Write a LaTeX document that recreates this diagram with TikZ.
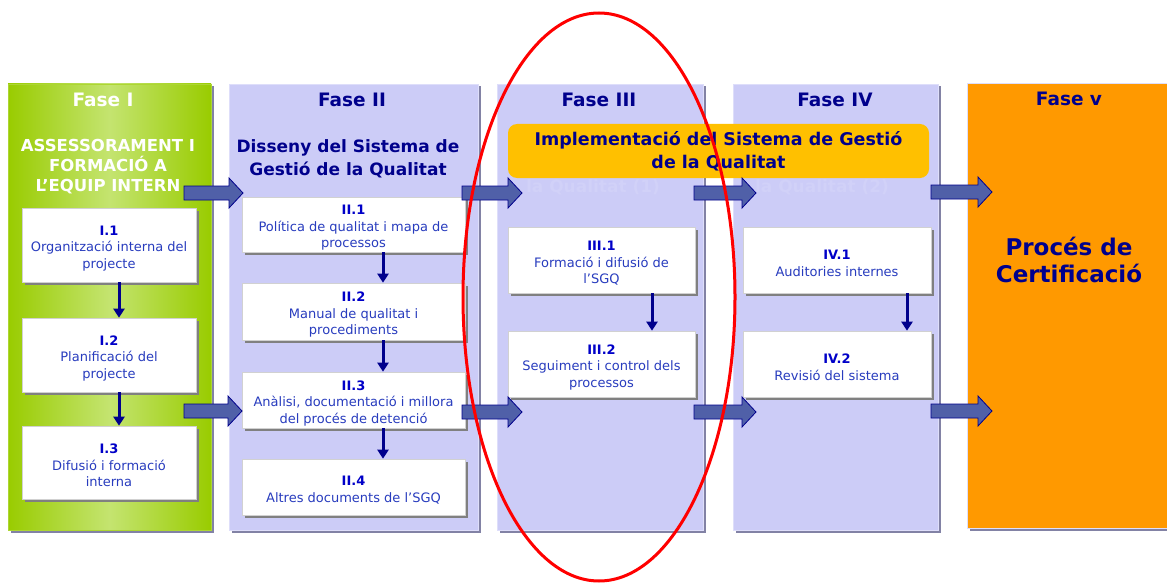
\documentclass[tikz,border=0pt]{standalone}
\usepackage{fontspec}
\setmainfont{DejaVu Sans}
\usetikzlibrary{shadows,arrows.meta}
\definecolor{lav}{RGB}{204,204,247}
\definecolor{lavedge}{RGB}{222,222,250}
\definecolor{panshadow}{RGB}{130,130,165}
\definecolor{grn}{RGB}{153,204,0}
\definecolor{grnl}{RGB}{196,228,112}
\definecolor{orng}{RGB}{255,153,0}
\definecolor{ylw}{RGB}{255,192,0}
\definecolor{navy}{RGB}{0,0,140}
\definecolor{numblue}{RGB}{0,0,200}
\definecolor{descblue}{RGB}{40,60,190}
\definecolor{arrfill}{RGB}{80,96,168}
\definecolor{arredge}{RGB}{0,0,140}
\definecolor{faint}{RGB}{209,209,248}
\tikzset{
  panel/.style={draw=lavedge, line width=0.8pt, fill=lav, inner sep=0pt,
    drop shadow={shadow xshift=2.5pt, shadow yshift=-2.5pt, fill=panshadow, opacity=1}},
  taskbox/.style={draw=black!18, fill=white, line width=0.6pt, inner sep=0pt, align=center,
    font=\fontsize{13}{16.5}\selectfont, text=descblue,
    drop shadow={shadow xshift=3pt, shadow yshift=-3pt, fill=black!50, opacity=1}},
  phasetitle/.style={font=\fontsize{18.5}{21}\selectfont\bfseries, text=navy},
  subtitle/.style={font=\fontsize{17}{23}\selectfont\bfseries, text=navy, align=center},
  bigarr/.style={draw=arredge, fill=arrfill, line width=0.8pt, line join=miter},
  dnarrow/.style={draw=navy, line width=3pt, -{Triangle[width=11pt,length=9pt]}},
}
\newcommand{\num}[1]{\rule{0pt}{16pt}{\bfseries\color{numblue}#1}}
% block arrow from coordinate #1 (tail) to coordinate #2 (tip)
\newcommand{\blockarrow}[2]{%
  \draw[bigarr] ([yshift=7pt]#1) -- ([xshift=-14pt,yshift=7pt]#2) -- ([xshift=-14pt,yshift=15pt]#2)
    -- (#2) -- ([xshift=-14pt,yshift=-15pt]#2) -- ([xshift=-14pt,yshift=-7pt]#2)
    -- ([yshift=-7pt]#1) -- cycle;}
\begin{document}
\begin{tikzpicture}[x=1pt,y=-1pt]
\useasboundingbox (0,0) rectangle (1167,583);
% panels
\node[panel, draw=grn!80, left color=grn, right color=grn, middle color=grnl,
  minimum width=203pt, minimum height=446pt] (PI) at (109.5,307) {};
\node[panel, minimum width=249pt, minimum height=446pt] (PII) at (353.5,307) {};
\node[panel, minimum width=206pt, minimum height=446pt] (PIII) at (600,307) {};
\node[panel, minimum width=205pt, minimum height=446pt] (PIV) at (835.5,307) {};
\node[panel, fill=orng, minimum width=212pt, minimum height=445pt] (PV) at (1073,305.5) {};
% titles
\node[phasetitle, text=white] (TI) at (103,100) {Fase I};
\node[phasetitle] (TII) at (352,100) {Fase II};
\node[phasetitle] (TIII) at (599,100) {Fase III};
\node[phasetitle] (TIV) at (835,100) {Fase IV};
\node[phasetitle] (TV) at (1069,99) {Fase v};
\node[subtitle, text=white, font=\fontsize{16.5}{20}\selectfont\bfseries] (SI) at (108,166.5) {ASSESSORAMENT I\\FORMACIÓ A\\L’EQUIP INTERN};
\node[subtitle] (SII) at (348,158.5) {Disseny del Sistema de\\Gestió de la Qualitat};
\node[subtitle, text=faint] (FIII) at (593,187) {la Qualitat (1)};
\node[subtitle, text=faint] (FIV) at (822,187) {la Qualitat (2)};
\node[subtitle, font=\fontsize{17.5}{23}\selectfont\bfseries, fill=ylw, rounded corners=9pt, minimum width=421pt, minimum height=54pt, inner sep=0pt] (IMP) at (718.5,151) {Implementació del Sistema de Gestió\\de la Qualitat};
\node[subtitle, font=\fontsize{23}{27}\selectfont\bfseries] (CERT) at (1069,259.5) {Procés de\\Certificació};
% task boxes
\node[taskbox, minimum width=174pt, minimum height=74pt] (I1) at (109,245) {\num{I.1}\\Organització interna del\\projecte};
\node[taskbox, minimum width=174pt, minimum height=74pt] (I2) at (109,355) {\num{I.2}\\Planificació del\\projecte};
\node[taskbox, minimum width=174pt, minimum height=73pt] (I3) at (109,462.5) {\num{I.3}\\Difusió i formació\\interna};
\node[taskbox, minimum width=223pt, minimum height=55pt] (II1) at (353.5,224.5) {\num{II.1}\\Política de qualitat i mapa de\\processos};
\node[taskbox, minimum width=223pt, minimum height=57pt] (II2) at (353.5,311.5) {\num{II.2}\\Manual de qualitat i\\procediments};
\node[taskbox, minimum width=223pt, minimum height=56pt] (II3) at (353.5,400) {\num{II.3}\\Anàlisi, documentació i millora\\del procés de detenció};
\node[taskbox, minimum width=223pt, minimum height=56pt] (II4) at (353.5,487) {\num{II.4}\\Altres documents de l’SGQ};
\node[taskbox, minimum width=187pt, minimum height=66pt] (III1) at (601.5,260) {\num{III.1}\\Formació i difusió de\\l’SGQ};
\node[taskbox, minimum width=187pt, minimum height=66pt] (III2) at (601.5,364) {\num{III.2}\\Seguiment i control dels\\processos};
\node[taskbox, minimum width=188pt, minimum height=66pt] (IV1) at (837,260) {\num{IV.1}\\Auditories internes};
\node[taskbox, minimum width=188pt, minimum height=66pt] (IV2) at (837,364) {\num{IV.2}\\Revisió del sistema};
% down arrows
\draw[dnarrow] ([xshift=10pt]I1.south) -- ([xshift=10pt]I2.north);
\draw[dnarrow] ([xshift=10pt]I2.south) -- ([xshift=10pt]I3.north);
\draw[dnarrow] ([xshift=29.5pt]II1.south) -- ([xshift=29.5pt]II2.north);
\draw[dnarrow] ([xshift=29.5pt]II2.south) -- ([xshift=29.5pt]II3.north);
\draw[dnarrow] ([xshift=29.5pt]II3.south) -- ([xshift=29.5pt]II4.north);
\draw[dnarrow] ([xshift=50.5pt]III1.south) -- ([xshift=50.5pt]III2.north);
\draw[dnarrow] ([xshift=70pt]IV1.south) -- ([xshift=70pt]IV2.north);
% big arrows between phases
\coordinate (a1s) at (184,193); \coordinate (a1e) at (243,193);
\coordinate (a2s) at (462,193); \coordinate (a2e) at (522,193);
\coordinate (a3s) at (694,193); \coordinate (a3e) at (756,193);
\coordinate (a4s) at (931,192); \coordinate (a4e) at (992,192);
\coordinate (b1s) at (184,411); \coordinate (b1e) at (242,411);
\coordinate (b2s) at (462,412); \coordinate (b2e) at (522,412);
\coordinate (b3s) at (694,412); \coordinate (b3e) at (756,412);
\coordinate (b4s) at (931,411); \coordinate (b4e) at (992,411);
\blockarrow{a1s}{a1e}
\blockarrow{a2s}{a2e}
\blockarrow{a3s}{a3e}
\blockarrow{a4s}{a4e}
\blockarrow{b1s}{b1e}
\blockarrow{b2s}{b2e}
\blockarrow{b3s}{b3e}
\blockarrow{b4s}{b4e}
% red ellipse
\draw[red, line width=3pt] (599,297) ellipse [x radius=136, y radius=284];
\end{tikzpicture}
\end{document}
